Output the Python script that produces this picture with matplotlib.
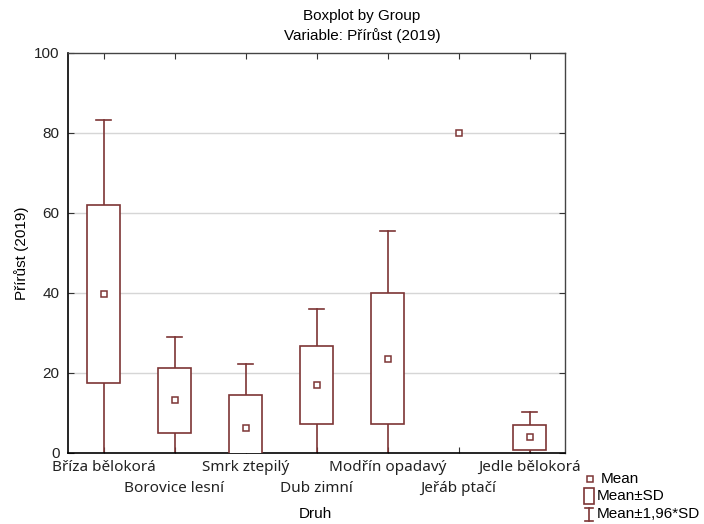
import matplotlib
matplotlib.use("Agg")
import matplotlib.pyplot as plt
from matplotlib.patches import Rectangle
from matplotlib.lines import Line2D

# Mean, SD per species (Přírůst 2019)
druhy = ["Bříza bělokorá", "Borovice lesní", "Smrk ztepilý", "Dub zimní",
         "Modřín opadavý", "Jeřáb ptačí", "Jedle bělokorá"]
means = [39.7, 13.2, 6.3, 17.0, 23.6, 80.0, 3.9]
sds = [22.2, 8.1, 8.1, 9.7, 16.3, 0.0, 3.2]
yticks = [0, 20, 40, 60, 80, 100]

COLOR = "#7d3535"
NARROW = ["Liberation Sans Narrow", "Liberation Sans", "DejaVu Sans"]
LABEL_FONT = ["Noto Sans", "DejaVu Sans"]

fig = plt.figure(figsize=(7.04, 5.24), dpi=100)
ax = fig.add_axes([68 / 704, 71 / 524, 497 / 704, 400 / 524])

box_w = 0.46
cap_w = 0.2
for i, (m, sd) in enumerate(zip(means, sds)):
    lo, hi = m - sd, m + sd
    wlo, whi = m - 1.96 * sd, m + 1.96 * sd
    if sd > 0:
        ax.add_patch(Rectangle((i - box_w / 2, lo), box_w, hi - lo,
                               facecolor="white", edgecolor=COLOR, lw=1.2, zorder=3))
        ax.plot([i, i], [hi, whi], color=COLOR, lw=1.2, zorder=2)
        ax.plot([i, i], [wlo, lo], color=COLOR, lw=1.2, zorder=2)
        ax.plot([i - cap_w / 2, i + cap_w / 2], [whi, whi], color=COLOR, lw=1.2, zorder=2)
        ax.plot([i - cap_w / 2, i + cap_w / 2], [wlo, wlo], color=COLOR, lw=1.2, zorder=2)
    ax.plot(i, m, marker="s", ms=5, mfc="white", mec=COLOR, mew=1.1, zorder=4)

ax.set_xlim(-0.5, len(druhy) - 0.5)
ax.set_ylim(0, 100)
ax.set_yticks(yticks)
ax.set_yticklabels([str(v) for v in yticks], family=NARROW, fontsize=11)
ax.set_xticks(range(len(druhy)))
ax.set_xticklabels([])
for i, name in enumerate(druhy):
    off = -0.037 if i % 2 == 0 else -0.09
    ax.text(i, off, name, transform=ax.get_xaxis_transform(), ha="center",
            va="center", family=LABEL_FONT, fontsize=11, color="#222222")

for y in yticks[1:-1]:
    ax.axhline(y, color="#d6d6d6", lw=1, zorder=0)

ax.tick_params(direction="in", length=4, top=True, right=True, width=0.8,
               colors="#333333", labelcolor="#222222")
ax.tick_params(axis="y", pad=6)
for side in ["left", "bottom"]:
    ax.spines[side].set_color("black")
    ax.spines[side].set_linewidth(1.2)
for side in ["top", "right"]:
    ax.spines[side].set_color("#444444")
    ax.spines[side].set_linewidth(1.0)

ax.set_ylabel("Přírůst (2019)", family=NARROW, fontsize=11, labelpad=4)
fig.text(315 / 704, 1 - 514 / 524, "Druh", family=NARROW, fontsize=11,
         ha="center", va="center")
fig.text(362 / 704, 1 - 16 / 524, "Boxplot by Group", family=NARROW,
         fontsize=11, ha="center", va="center")
fig.text(362 / 704, 1 - 36 / 524, "Variable: Přírůst (2019)", family=NARROW,
         fontsize=11, ha="center", va="center")

# legend drawn in figure pixel coordinates
W, H = 704, 524
def fx(px):
    return px / W
def fy(py):
    return 1 - py / H

fig.add_artist(Line2D([fx(590)], [fy(479)], marker="s", ms=4.5, mfc="white",
                      mec=COLOR, mew=1.1, transform=fig.transFigure))
fig.add_artist(Rectangle((fx(584), fy(504)), 10 / W, 16 / H, facecolor="white",
                         edgecolor=COLOR, lw=1.2, transform=fig.transFigure))
fig.add_artist(Line2D([fx(589), fx(589)], [fy(508), fy(521)], color=COLOR, lw=1.2,
                      transform=fig.transFigure))
fig.add_artist(Line2D([fx(585), fx(593)], [fy(508), fy(508)], color=COLOR, lw=1.2,
                      transform=fig.transFigure))
fig.add_artist(Line2D([fx(585), fx(593)], [fy(521), fy(521)], color=COLOR, lw=1.2,
                      transform=fig.transFigure))
for px, py, txt in [(601, 479, "Mean"), (597, 496, "Mean±SD"), (597, 514, "Mean±1,96*SD")]:
    fig.text(fx(px), fy(py), txt, family=NARROW, fontsize=11, ha="left", va="center")

fig.savefig("out.png", dpi=100, facecolor="white")
